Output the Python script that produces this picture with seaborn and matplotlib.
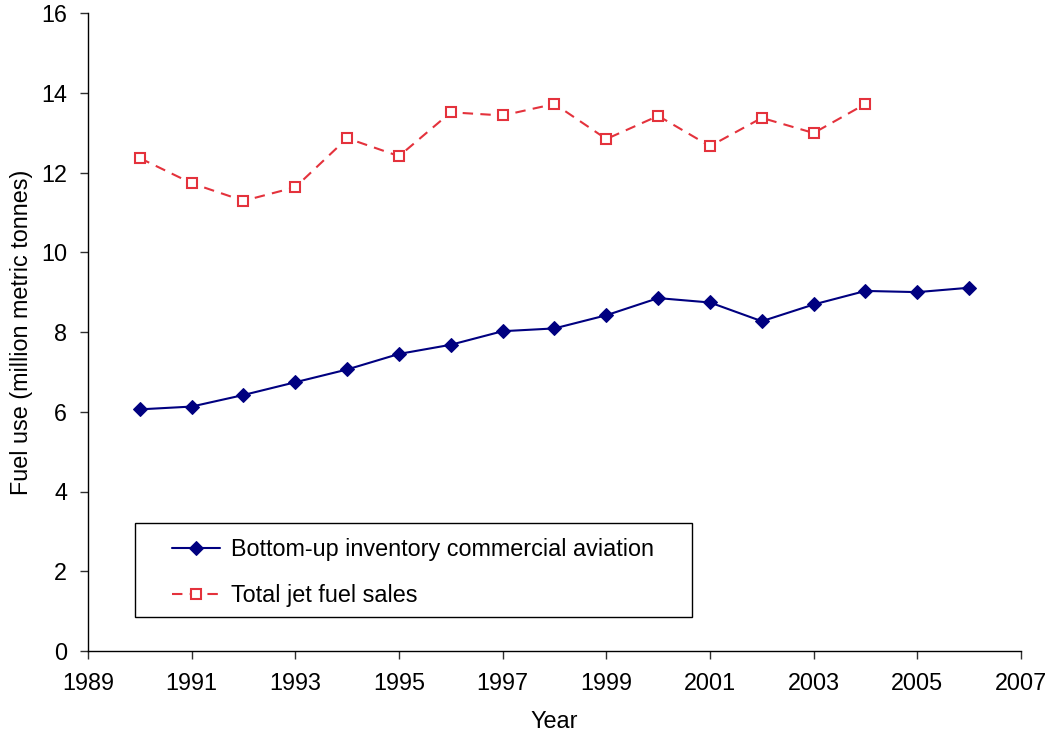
import matplotlib
matplotlib.use("Agg")
import matplotlib.pyplot as plt
from matplotlib.patches import Rectangle
import seaborn as sns
import pandas as pd

years_blue = [1990, 1991, 1992, 1993, 1994, 1995, 1996, 1997, 1998, 1999, 2000, 2001, 2002, 2003, 2004, 2005, 2006]
bottom_up = [6.06, 6.13, 6.42, 6.74, 7.06, 7.45, 7.68, 8.02, 8.09, 8.42, 8.85, 8.74, 8.27, 8.69, 9.03, 9.00, 9.11]
years_red = [1990, 1991, 1992, 1993, 1994, 1995, 1996, 1997, 1998, 1999, 2000, 2001, 2002, 2003, 2004]
jet_sales = [12.36, 11.73, 11.29, 11.63, 12.86, 12.41, 13.51, 13.43, 13.72, 12.84, 13.42, 12.66, 13.37, 12.99, 13.72]
label_blue = "Bottom-up inventory commercial aviation"
label_red = "Total jet fuel sales"
x_ticks = list(range(1989, 2008, 2))
y_ticks = list(range(0, 17, 2))

sns.set_style("white")
plt.rcParams['font.family'] = ['Liberation Sans', 'DejaVu Sans']
plt.rcParams['text.color'] = 'black'
plt.rcParams['axes.labelcolor'] = 'black'
plt.rcParams['xtick.color'] = 'black'
plt.rcParams['ytick.color'] = 'black'
FS = 16.8

fig = plt.figure(figsize=(10.5, 7.36), dpi=100)
ax = fig.add_axes([88/1050, 85/736, 933/1050, 638/736])

df_blue = pd.DataFrame({"Year": years_blue, "Fuel": bottom_up})
df_red = pd.DataFrame({"Year": years_red, "Fuel": jet_sales})

sns.lineplot(data=df_blue, x="Year", y="Fuel", ax=ax, color="#000080", lw=1.5,
             marker="D", markersize=7.5, markeredgecolor="#000080", markerfacecolor="#000080",
             label=label_blue)
sns.lineplot(data=df_red, x="Year", y="Fuel", ax=ax, color="#E4323C", lw=1.5,
             linestyle=(0, (5, 3.5)), marker="s", markersize=7, markeredgecolor="#E4323C",
             markerfacecolor="white", markeredgewidth=1.5, label=label_red)

ax.set_xlim(1989, 2007)
ax.set_ylim(0, 16)
ax.set_xticks(x_ticks)
ax.set_yticks(y_ticks)
ax.tick_params(axis='both', labelsize=FS, length=6, width=1, color="#303030",
               direction='out', bottom=True, left=True, labelcolor="black")
ax.tick_params(axis='x', pad=9)
ax.tick_params(axis='y', pad=9)
for s in ["top", "right"]:
    ax.spines[s].set_visible(False)
for s in ["left", "bottom"]:
    ax.spines[s].set_color("black")
    ax.spines[s].set_linewidth(1)
ax.set_xlabel("Year", fontsize=FS, color="black")
ax.set_ylabel("Fuel use (million metric tonnes)", fontsize=FS, color="black")
ax.xaxis.label.set_va("center")
ax.yaxis.label.set_va("center")
ax.xaxis.set_label_coords(0.5, -0.111)
ax.yaxis.set_label_coords(-0.0715, 0.5)
ax.grid(False)

# legend frame
ax.add_patch(Rectangle((0.0504, 0.0533), 0.597, 0.147, transform=ax.transAxes,
                       facecolor="white", edgecolor="black", lw=1, zorder=4))
leg = ax.legend(loc="upper left", bbox_to_anchor=(0.090, 0.177), fontsize=FS,
                frameon=False, handlelength=2.05, handletextpad=0.5,
                labelspacing=0.98, borderpad=0, borderaxespad=0)
leg.set_zorder(5)
for t in leg.get_texts():
    t.set_color("black")

fig.savefig("out.png", dpi=100)
